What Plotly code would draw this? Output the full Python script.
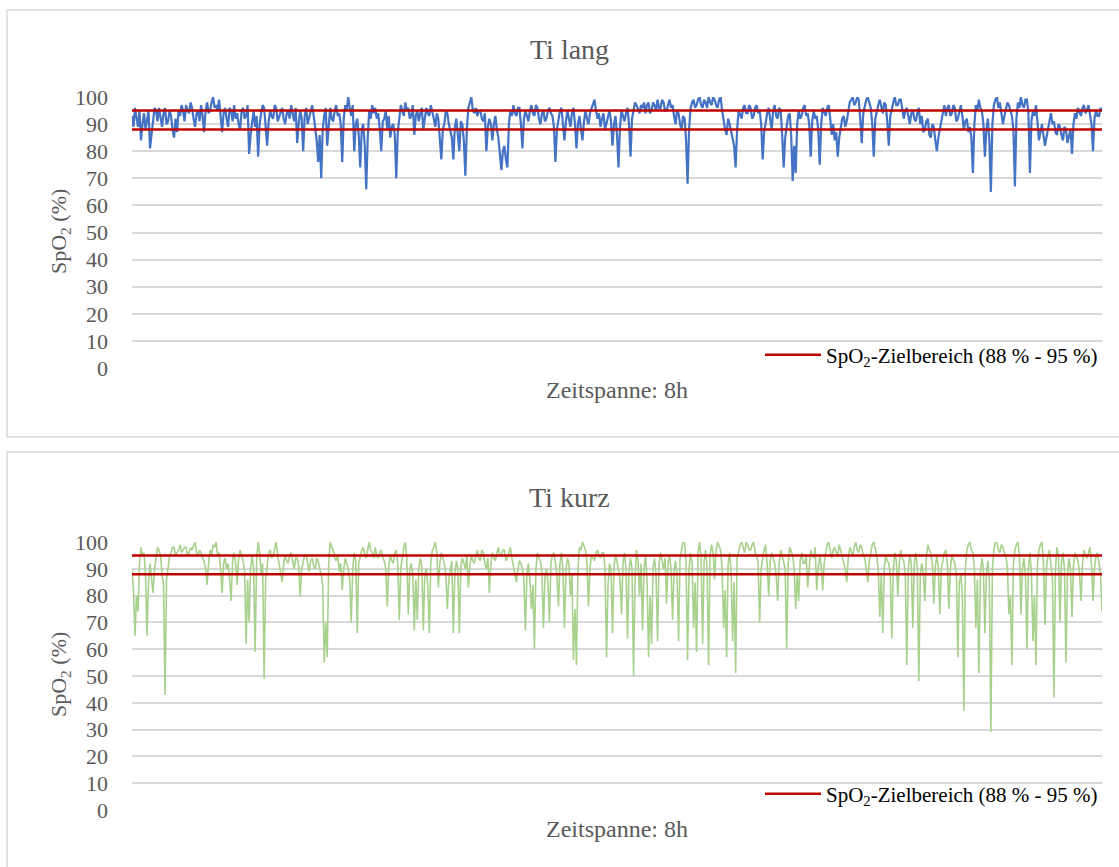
import plotly.graph_objects as go

W, H = 1119, 867

# ---- data (SpO2 %, one value per ~1.5 px of time) ----
ti_lang = [
    93, 89, 96, 92, 89, 95, 84, 90, 94, 88, 92, 95, 81, 87, 91, 96, 95, 91, 96, 93,
    89, 94, 96, 90, 91, 95, 93, 88, 85, 92, 87, 95, 93, 97, 95, 91, 97, 95, 94, 98,
    96, 92, 89, 94, 95, 91, 97, 93, 87, 95, 98, 94, 95, 98, 100, 96, 97, 95, 99, 93,
    87, 94, 96, 92, 89, 96, 95, 91, 97, 92, 94, 90, 88, 95, 96, 92, 93, 97, 79, 86,
    91, 95, 89, 93, 78, 90, 94, 97, 96, 90, 82, 91, 95, 93, 92, 97, 96, 91, 93, 95,
    96, 92, 90, 94, 95, 92, 97, 94, 91, 96, 83, 90, 95, 92, 80, 93, 96, 90, 92, 95,
    97, 93, 89, 84, 76, 86, 70, 88, 93, 96, 82, 90, 96, 92, 91, 95, 97, 93, 94, 90,
    76, 92, 97, 95, 100, 96, 93, 97, 80, 90, 92, 86, 74, 88, 90, 82, 66, 85, 95, 92,
    97, 94, 96, 92, 94, 88, 80, 91, 92, 95, 88, 93, 85, 89, 90, 86, 70, 87, 92, 97,
    95, 93, 98, 95, 96, 92, 93, 97, 86, 93, 95, 91, 94, 96, 88, 92, 96, 94, 93, 97,
    95, 92, 89, 94, 92, 86, 77, 88, 90, 95, 94, 90, 88, 85, 77, 89, 92, 86, 80, 91,
    90, 84, 71, 88, 96, 98, 100, 95, 94, 96, 93, 95, 95, 92, 91, 94, 80, 89, 92, 90,
    84, 90, 93, 88, 85, 79, 73, 80, 82, 77, 74, 90, 95, 93, 97, 94, 93, 96, 96, 90,
    81, 92, 95, 93, 91, 95, 97, 94, 93, 97, 96, 92, 90, 94, 95, 91, 92, 95, 96, 94,
    93, 89, 76, 88, 92, 95, 96, 90, 84, 91, 95, 92, 89, 94, 96, 90, 81, 90, 93, 88,
    84, 91, 95, 92, 90, 94, 96, 98, 99, 95, 92, 94, 89, 92, 94, 88, 90, 93, 95, 91,
    82, 90, 93, 86, 74, 89, 95, 93, 91, 94, 96, 90, 78, 92, 95, 98, 97, 95, 94, 97,
    96, 98, 94, 97, 98, 94, 95, 98, 97, 95, 99, 96, 96, 99, 98, 95, 95, 97, 99, 96,
    97, 93, 90, 95, 94, 90, 88, 93, 92, 84, 68, 88, 96, 98, 99, 96, 97, 99, 100, 97,
    96, 99, 98, 96, 100, 98, 97, 100, 99, 97, 96, 99, 100, 95, 91, 88, 86, 92, 90, 87,
    85, 82, 74, 88, 95, 93, 92, 96, 97, 94, 94, 97, 96, 92, 93, 96, 97, 94, 95, 90,
    77, 87, 91, 94, 96, 92, 88, 95, 97, 93, 92, 96, 95, 86, 74, 85, 90, 93, 94, 86,
    69, 82, 72, 90, 95, 92, 93, 96, 97, 93, 94, 90, 78, 91, 95, 92, 93, 88, 75, 90,
    96, 94, 93, 96, 97, 92, 86, 90, 84, 87, 78, 85, 88, 92, 93, 89, 91, 95, 98, 99,
    100, 97, 98, 100, 99, 92, 83, 94, 97, 99, 100, 98, 96, 90, 78, 92, 95, 97, 99, 96,
    94, 98, 97, 91, 82, 93, 96, 98, 100, 97, 97, 99, 99, 96, 92, 95, 96, 93, 90, 94,
    95, 92, 91, 94, 96, 90, 93, 87, 88, 91, 92, 86, 85, 90, 89, 84, 80, 85, 88, 92,
    95, 97, 93, 96, 97, 93, 94, 97, 96, 91, 92, 95, 97, 93, 88, 91, 92, 87, 89, 85,
    72, 90, 97, 95, 99, 96, 95, 90, 78, 88, 92, 84, 65, 90, 97, 99, 100, 96, 98, 94,
    90, 93, 95, 98, 97, 95, 93, 88, 67, 92, 98, 96, 100, 97, 96, 99, 99, 94, 72, 91,
    95, 93, 97, 91, 84, 87, 90, 86, 82, 85, 88, 92, 94, 90, 91, 87, 86, 90, 89, 86,
    84, 89, 88, 83, 85, 88, 79, 90, 94, 92, 96, 94, 93, 96, 97, 94, 95, 97, 93, 90,
    80, 92, 95, 93, 93, 96, 95,
]

ti_kurz = [
    90, 82, 65, 80, 74, 92, 98, 95, 96, 88, 65, 85, 92, 87, 81, 90, 94, 98, 97, 95,
    88, 84, 43, 86, 90, 95, 96, 98, 98, 95, 96, 97, 99, 96, 97, 98, 98, 95, 96, 98,
    97, 99, 100, 96, 95, 97, 96, 94, 93, 90, 84, 92, 97, 95, 99, 98, 100, 95, 96, 90,
    81, 92, 94, 90, 92, 86, 78, 93, 96, 92, 84, 94, 97, 95, 93, 89, 62, 86, 70, 90,
    95, 90, 59, 93, 100, 96, 88, 92, 49, 86, 92, 96, 97, 94, 95, 98, 100, 95, 91, 88,
    85, 92, 95, 93, 92, 95, 96, 93, 90, 94, 94, 91, 80, 90, 92, 95, 95, 92, 89, 93,
    94, 91, 90, 94, 93, 90, 88, 84, 55, 70, 57, 92, 100, 98, 97, 94, 93, 95, 89, 92,
    82, 90, 94, 92, 90, 86, 70, 90, 96, 93, 66, 92, 95, 97, 98, 95, 94, 98, 100, 97,
    96, 94, 98, 95, 94, 96, 97, 94, 93, 90, 76, 91, 95, 93, 92, 96, 97, 92, 71, 90,
    95, 98, 100, 94, 73, 90, 92, 88, 67, 86, 71, 90, 94, 91, 67, 88, 90, 84, 66, 92,
    97, 98, 100, 96, 83, 92, 96, 94, 92, 88, 75, 86, 90, 93, 66, 88, 93, 90, 66, 91,
    94, 92, 90, 95, 83, 91, 95, 93, 92, 95, 97, 94, 93, 97, 96, 92, 90, 94, 81, 92,
    96, 94, 93, 96, 98, 95, 95, 97, 97, 93, 94, 96, 98, 94, 91, 88, 85, 90, 93, 92,
    90, 86, 67, 88, 92, 86, 75, 84, 60, 90, 96, 94, 93, 89, 68, 87, 90, 85, 70, 92,
    95, 96, 92, 88, 76, 92, 96, 90, 68, 89, 94, 92, 80, 88, 56, 75, 54, 90, 98, 97,
    100, 98, 97, 92, 76, 90, 95, 94, 93, 96, 97, 95, 94, 96, 96, 90, 57, 84, 92, 90,
    66, 91, 95, 93, 90, 86, 73, 92, 96, 90, 64, 89, 94, 90, 50, 86, 97, 93, 80, 92,
    67, 90, 95, 86, 57, 80, 62, 90, 94, 88, 63, 92, 96, 93, 90, 94, 77, 92, 95, 90,
    71, 89, 93, 88, 63, 94, 98, 100, 100, 92, 56, 90, 96, 92, 68, 85, 59, 96, 100, 94,
    62, 93, 97, 90, 54, 95, 99, 96, 86, 97, 100, 98, 97, 90, 68, 82, 57, 92, 96, 89,
    63, 85, 51, 94, 97, 99, 100, 98, 96, 100, 99, 97, 97, 99, 100, 96, 95, 92, 70, 90,
    94, 97, 99, 92, 80, 93, 96, 94, 92, 88, 78, 92, 97, 95, 93, 90, 60, 92, 98, 96,
    95, 90, 75, 88, 78, 93, 96, 92, 92, 95, 83, 90, 97, 95, 94, 98, 82, 90, 95, 91,
    82, 92, 96, 99, 100, 96, 94, 97, 98, 96, 95, 99, 97, 94, 93, 90, 85, 94, 98, 96,
    95, 98, 100, 97, 96, 99, 98, 95, 94, 90, 85, 93, 97, 99, 100, 97, 95, 90, 72, 88,
    66, 90, 95, 93, 92, 88, 64, 90, 96, 93, 80, 92, 97, 94, 93, 88, 54, 90, 95, 92,
    68, 92, 96, 90, 48, 88, 92, 88, 78, 94, 99, 97, 96, 92, 77, 91, 95, 90, 73, 90,
    93, 96, 97, 92, 75, 90, 95, 93, 92, 88, 57, 85, 88, 80, 37, 90, 97, 99, 100, 97,
    96, 90, 68, 86, 51, 88, 94, 90, 66, 88, 93, 85, 29, 90, 97, 100, 100, 97, 96, 99,
    98, 96, 95, 90, 73, 80, 54, 92, 97, 99, 100, 95, 73, 90, 94, 88, 60, 90, 96, 88,
    63, 80, 54, 92, 97, 99, 100, 93, 69, 90, 95, 97, 92, 86, 42, 90, 98, 95, 70, 92,
    96, 90, 55, 88, 94, 90, 72, 91, 96, 94, 93, 89, 78, 92, 97, 95, 94, 96, 98, 92,
    78, 90, 95, 96, 92, 88, 74,
]

target_low = 88
target_high = 95
y_ticks = [0, 10, 20, 30, 40, 50, 60, 70, 80, 90, 100]
panel_titles = ["Ti lang", "Ti kurz"]
x_title = "Zeitspanne: 8h"
y_title = "SpO<sub>2</sub> (%)"
legend_label = "SpO<sub>2</sub>-Zielbereich (88 % - 95 %)"

# ---- styling ----
FONT = "Liberation Serif, Times New Roman, serif"
TXT = "#595959"
GRID = "#d9d9d9"
BLUE = "#4472c4"
GREEN = "#a9d18e"
RED = "#c00000"


def fx(x):
    return x / W


def fy(y):
    return 1 - y / H


fig = go.Figure()

panels = [
    dict(data=ti_lang, color=BLUE, width=2.2, xa="x", ya="y", legend="legend",
         top=97, bottom=368, title_y=50, xt_y=390, yt_y=232, box=(10, 437), leg_y=355),
    dict(data=ti_kurz, color=GREEN, width=1.6, xa="x2", ya="y2", legend="legend2",
         top=542, bottom=810, title_y=497, xt_y=829, yt_y=675, box=(452, 872), leg_y=794),
]

shapes = []
annotations = []
for k, p in enumerate(panels):
    xs = list(range(len(p["data"])))
    fig.add_trace(go.Scatter(x=xs, y=p["data"], mode="lines",
                             line=dict(color=p["color"], width=p["width"]),
                             xaxis=p["xa"], yaxis=p["ya"], showlegend=False,
                             hoverinfo="skip"))
    x_end = len(p["data"]) - 1
    for j, lev in enumerate([target_high, target_low]):
        fig.add_trace(go.Scatter(x=[0, x_end], y=[lev, lev], mode="lines",
                                 line=dict(color=RED, width=2.5),
                                 xaxis=p["xa"], yaxis=p["ya"],
                                 name=legend_label, legend=p["legend"],
                                 showlegend=(j == 0), hoverinfo="skip"))
    shapes.append(dict(type="rect", xref="paper", yref="paper",
                       x0=fx(7), x1=fx(1125), y0=fy(p["box"][1]), y1=fy(p["box"][0]),
                       line=dict(color=GRID, width=1.5), fillcolor="rgba(0,0,0,0)",
                       layer="below"))
    annotations.append(dict(text=panel_titles[k], x=fx(569), y=fy(p["title_y"]),
                            xref="paper", yref="paper", showarrow=False,
                            xanchor="center", yanchor="middle",
                            font=dict(family=FONT, size=28, color=TXT)))
    annotations.append(dict(text=x_title, x=fx(617), y=fy(p["xt_y"]),
                            xref="paper", yref="paper", showarrow=False,
                            xanchor="center", yanchor="middle",
                            font=dict(family=FONT, size=24, color=TXT)))
    annotations.append(dict(text=y_title, x=fx(60), y=fy(p["yt_y"]),
                            xref="paper", yref="paper", showarrow=False,
                            textangle=-90, xanchor="center", yanchor="middle",
                            font=dict(family=FONT, size=22, color=TXT)))

    xdom = [fx(132), fx(1102)]
    ydom = [fy(p["bottom"]), fy(p["top"])]
    suffix = "" if k == 0 else "2"
    fig.update_layout(**{
        "xaxis" + suffix: dict(domain=xdom, range=[0, x_end], showgrid=False,
                               zeroline=False, showticklabels=False, showline=False,
                               automargin=False,
                               anchor="y" + suffix, fixedrange=True),
        "yaxis" + suffix: dict(domain=ydom, range=[0, 100], tickvals=y_ticks,
                               showgrid=True, gridcolor=GRID, gridwidth=1.6,
                               zeroline=False, showline=False, ticks="",
                               ticklabelstandoff=23, automargin=False,
                               tickfont=dict(family=FONT, size=22, color=TXT),
                               anchor="x" + suffix, fixedrange=True),
        p["legend"]: dict(x=fx(760), y=fy(p["leg_y"]), xanchor="left", yanchor="middle",
                          bgcolor="rgba(0,0,0,0)",
                          font=dict(family=FONT, size=21, color="#000000"),
                          itemwidth=56),
    })

fig.update_layout(width=W, height=H, margin=dict(l=0, r=0, t=0, b=0, autoexpand=False),
                  paper_bgcolor="white", plot_bgcolor="white",
                  shapes=shapes, annotations=annotations)

fig.write_html("out.html",
               post_script="document.body.style.margin='0';document.body.style.padding='0';")
